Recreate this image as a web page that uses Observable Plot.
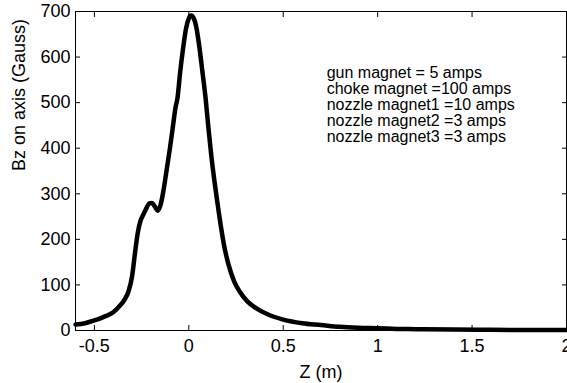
<!DOCTYPE html>
<html><head><meta charset="utf-8">
<script src="https://cdn.jsdelivr.net/npm/d3@7"></script>
<script src="https://cdn.jsdelivr.net/npm/@observablehq/plot@0.6"></script>
<style>body{margin:0;background:#fff}</style>
</head><body><div id="chart"></div>
<script>
const zValues = [-0.6,-0.55,-0.5,-0.45,-0.4,-0.37,-0.34,-0.32,-0.3,-0.285,-0.27,-0.255,-0.24,-0.225,-0.21,-0.195,-0.18,-0.165,-0.15,-0.135,-0.12,-0.1,-0.085,-0.07,-0.06,-0.045,-0.03,-0.015,0,0.012,0.025,0.04,0.055,0.07,0.09,0.105,0.12,0.135,0.15,0.17,0.19,0.21,0.24,0.27,0.31,0.36,0.42,0.5,0.6,0.7,0.8,0.9,1.0,1.1,1.2,1.4,1.6,1.8,2.0];
const bzValues = [13,16,22,30,40,52,68,85,120,170,215,242,255,268,279,280,272,263,275,305,345,400,445,490,510,570,620,662,685,691,686,665,625,575,505,440,380,330,285,228,180,145,108,85,64,48,35,24,16,12,8,6,5,3.5,3,2,1.5,1,1];
const xTicks = [-0.5,0,0.5,1,1.5,2];
const yTicks = [0,100,200,300,400,500,600,700];
const xLabel = "Z (m)";
const yLabel = "Bz on axis (Gauss)";
const annotationLines = ["gun magnet = 5 amps","choke magnet =100 amps","nozzle magnet1 =10 amps","nozzle magnet2 =3 amps","nozzle magnet3 =3 amps"];

const data = zValues.map((z, i) => ({z, bz: bzValues[i]}));
const fmt = d => String(d);

const plot = Plot.plot({
  width: 567, height: 383,
  marginLeft: 75, marginRight: 1, marginTop: 11, marginBottom: 53,
  style: {fontFamily: "'Liberation Sans', Arial, sans-serif", fontSize: "18px", color: "black", background: "white", overflow: "visible"},
  x: {domain: [-0.6, 2]},
  y: {domain: [0, 700]},
  marks: [
    Plot.line(data, {x: "z", y: "bz", stroke: "black", strokeWidth: 4.5, curve: "monotone-x"}),
    Plot.frame({stroke: "black", strokeWidth: 1}),
    Plot.axisX({ticks: xTicks, tickFormat: fmt, tickSize: -5, tickPadding: 14, label: null}),
    Plot.axisX({anchor: "top", ticks: xTicks, tickFormat: () => "", tickSize: -5, label: null}),
    Plot.axisY({ticks: yTicks, tickFormat: fmt, tickSize: -5, tickPadding: 10, label: null}),
    Plot.axisY({anchor: "right", ticks: yTicks, tickFormat: () => "", tickSize: -5, label: null}),
    Plot.text([xLabel], {text: d => d, frameAnchor: "bottom", dy: 42, lineAnchor: "middle", fontSize: 18}),
    Plot.text([yLabel], {text: d => d, frameAnchor: "left", rotate: -90, dx: -56, lineAnchor: "middle", fontSize: 18}),
    Plot.text([annotationLines.join("\n")], {text: d => d, x: 0.73, y: 580, textAnchor: "start", lineAnchor: "top", lineHeight: 1, fontSize: 16})
  ]
});
document.getElementById("chart").appendChild(plot);
</script>
</body></html>
